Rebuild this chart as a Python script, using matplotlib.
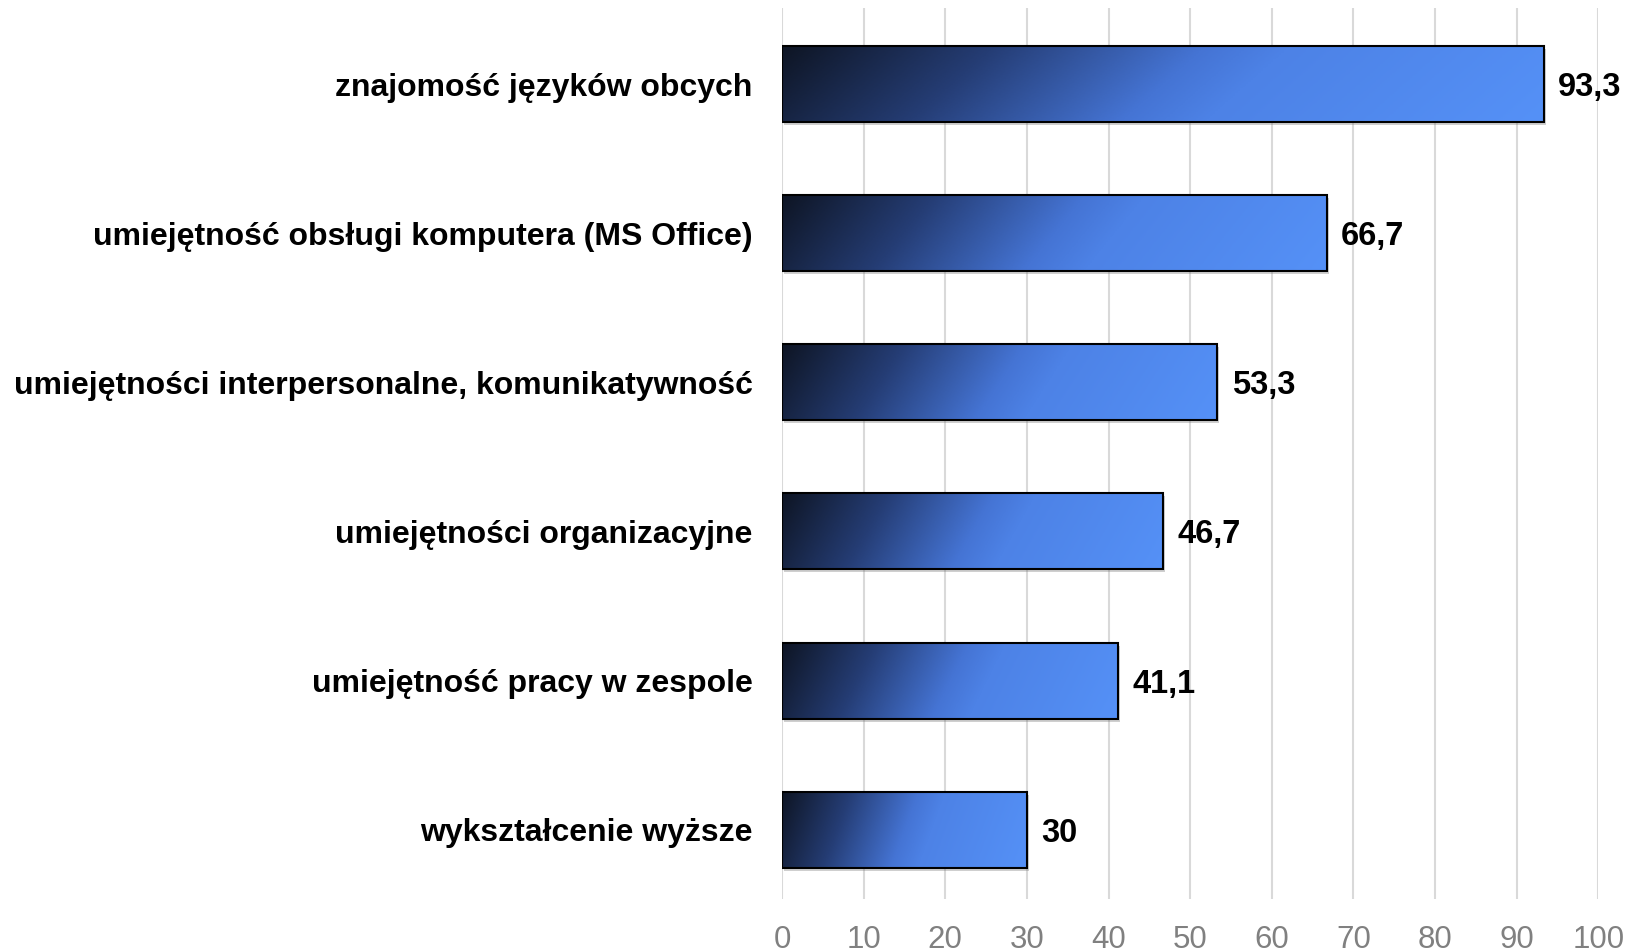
import matplotlib
matplotlib.use('Agg')
import matplotlib.pyplot as plt
import numpy as np
from matplotlib.colors import LinearSegmentedColormap
from matplotlib.patches import Rectangle
import matplotlib.transforms as mtransforms
from matplotlib import font_manager

categories = ['znajomość języków obcych',
              'umiejętność obsługi komputera (MS Office)',
              'umiejętności interpersonalne, komunikatywność',
              'umiejętności organizacyjne',
              'umiejętność pracy w zespole',
              'wykształcenie wyższe']
values = [93.3, 66.7, 53.3, 46.7, 41.1, 30]
value_labels = ['93,3', '66,7', '53,3', '46,7', '41,1', '30']
xticks = list(range(0, 101, 10))

names = {f.name for f in font_manager.fontManager.ttflist}
narrow = 'Liberation Sans Narrow' if 'Liberation Sans Narrow' in names else 'Liberation Sans'

fig = plt.figure(figsize=(16.36, 9.52), dpi=100)
ax = fig.add_axes([0.4780, 0.0557, 0.4990, 0.9359])

cmap = LinearSegmentedColormap.from_list(
    'g', [(0, '#0e1524'), (0.25, '#253d75'), (0.5, '#4574d4'),
          (0.6, '#4d82e6'), (1, '#5591f7')])
ny, nx = 60, 300
xx, yy = np.meshgrid(np.linspace(0, 1, nx), np.linspace(0, 1, ny))
grad = np.clip(xx * 0.9 + yy * 0.1, 0, 1)

bars = ax.barh(range(len(values)), values, height=0.51, color='none',
               edgecolor='black', linewidth=1.5, zorder=3)
shadow_tr = ax.transData + mtransforms.ScaledTranslation(2 / 100, -3 / 100, fig.dpi_scale_trans)
for bar, val, lab in zip(bars, values, value_labels):
    x0, y0 = bar.get_x(), bar.get_y()
    w, h = bar.get_width(), bar.get_height()
    ax.add_patch(Rectangle((x0, y0), w, h, facecolor='#777777', alpha=0.35,
                           edgecolor='none', zorder=2, transform=shadow_tr))
    im = ax.imshow(grad, cmap=cmap, extent=(x0, x0 + w, y0 + h, y0),
                   aspect='auto', zorder=2.5, interpolation='bilinear')
    im.set_clip_path(bar)
    ax.annotate(lab, (val, y0 + h / 2), xytext=(10.5, 0), textcoords='offset points',
                ha='left', va='center_baseline', fontsize=23.5, fontweight='bold',
                family='Liberation Sans', color='black')

ax.set_xlim(0, 100)
ax.set_ylim(5.466, -0.513)
ax.set_xticks(xticks)
ax.set_xticklabels([str(t) for t in xticks], family=narrow, fontsize=22.5, color='#808080')
ax.set_yticks(range(len(categories)))
ax.set_yticklabels(categories, family='Liberation Sans', fontsize=23, fontweight='bold',
                   color='black', va='center_baseline')
ax.tick_params(axis='x', length=0, pad=18.5)
ax.tick_params(axis='y', length=0, pad=21)
ax.grid(axis='x', color='#d9d9d9', linewidth=1.5, zorder=0)
ax.set_axisbelow(True)
for s in ax.spines.values():
    s.set_visible(False)

fig.savefig('out.png', dpi=100)
